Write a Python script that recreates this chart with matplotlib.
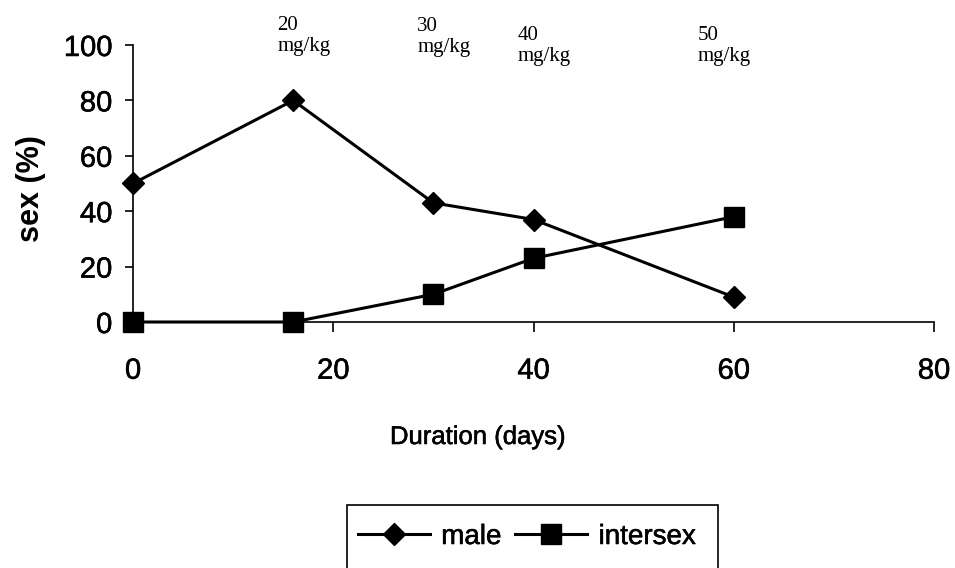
import matplotlib.pyplot as plt
import matplotlib.patheffects as pe
from matplotlib.patches import Rectangle

days = [0, 16, 30, 40, 60]
male = [50, 80, 43, 37, 9]
intersex = [0, 0, 10, 23, 38]

dose_labels = ["20\nmg/kg", "30\nmg/kg", "40\nmg/kg", "50\nmg/kg"]
dose_x = [14.4, 28.4, 38.4, 56.4]
dose_y = [110.5, 110.0, 107.0, 107.0]

plt.rcParams['font.family'] = ['Liberation Sans', 'DejaVu Sans']
thick = [pe.withStroke(linewidth=0.4, foreground='black')]

fig = plt.figure(figsize=(9.55, 5.68), dpi=100)
ax = fig.add_axes([0.1393, 0.4331, 0.978 - 0.1393, 0.9208 - 0.4331])

ax.plot(days, male, color='black', lw=2.2, marker='D', ms=11,
        clip_on=False, zorder=3, label='male')
ax.plot(days, intersex, color='black', lw=2.2, marker='s', ms=14,
        clip_on=False, zorder=3, label='intersex')

ax.set_xlim(0, 80)
ax.set_ylim(0, 100)
ax.set_xticks([0, 20, 40, 60, 80])
ax.set_yticks([0, 20, 40, 60, 80, 100])
ax.spines['top'].set_visible(False)
ax.spines['right'].set_visible(False)
for s in ['left', 'bottom']:
    ax.spines[s].set_linewidth(1.2)
ax.tick_params(axis='y', direction='out', length=6, width=1.2, pad=9,
               labelsize=21)
ax.tick_params(axis='x', direction='out', length=7, width=1.2, pad=18,
               labelsize=21)
for t in ax.get_xticklabels() + ax.get_yticklabels():
    t.set_path_effects(thick)

for lab, x, y in zip(dose_labels, dose_x, dose_y):
    ax.text(x, y, lab, family='Liberation Serif', fontsize=15,
            ha='left', va='top', linespacing=1.15, clip_on=False)

fig.text(31 / 955, 1 - 189 / 568, 'sex (%)', rotation=90, fontsize=22,
         fontweight='bold', ha='center', va='center')
fig.text(478 / 955, 1 - 437 / 568, 'Duration (days)', fontsize=18.5,
         ha='center', va='center', path_effects=thick)

fig.patches.append(Rectangle((347 / 955, -0.05), (718 - 347) / 955,
                             1 - 505 / 568 + 0.05, transform=fig.transFigure,
                             fill=False, edgecolor='black', lw=1.2))
leg = ax.legend(loc='center left', bbox_to_anchor=(344 / 955, 1 - 537 / 568),
                bbox_transform=fig.transFigure, ncol=2, frameon=False,
                fontsize=20, borderpad=0, handlelength=2.6, handletextpad=0.4,
                columnspacing=0.5)
for t in leg.get_texts():
    t.set_path_effects(thick)

fig.savefig('out.png', dpi=100)
